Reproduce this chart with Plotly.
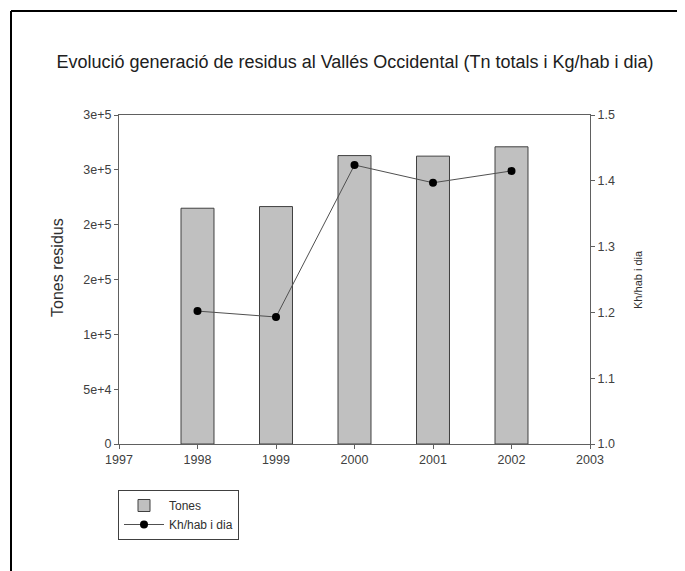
import plotly.graph_objects as go

years = [1998, 1999, 2000, 2001, 2002]
tones = [215000, 216500, 263000, 262500, 271000]
kg_hab_dia = [1.202, 1.193, 1.424, 1.397, 1.415]

x_ticks = [1997, 1998, 1999, 2000, 2001, 2002, 2003]
y1_tickvals = [0, 50000, 100000, 150000, 200000, 250000, 300000]
y1_ticktext = ["0", "5e+4", "1e+5", "2e+5", "2e+5", "3e+5", "3e+5"]
y2_tickvals = [1.0, 1.1, 1.2, 1.3, 1.4, 1.5]
y2_ticktext = ["1.0", "1.1", "1.2", "1.3", "1.4", "1.5"]

FONT = "Arial, Liberation Sans, sans-serif"
W, H = 685, 571
OFF = 8  # page body margin
L, R, T, B = 119 - OFF, 590 - OFF, 115 - OFF, 444 - OFF
pw, ph = R - L, B - T

def px(x):
    return (x - OFF - L) / pw

def py(y):
    return (B - (y - OFF)) / ph

fig = go.Figure()
fig.add_trace(go.Bar(
    x=years, y=tones, name="Tones", width=0.42,
    marker=dict(color="#c0c0c0", line=dict(color="#404040", width=1)),
    yaxis="y",
))
fig.add_trace(go.Scatter(
    x=years, y=kg_hab_dia, name="Kh/hab i dia", mode="lines+markers",
    line=dict(color="#505050", width=1),
    marker=dict(color="black", size=8),
    yaxis="y2",
))

axis_common = dict(
    showgrid=False, zeroline=False, showline=True, linecolor="#606060", linewidth=1,
    ticks="outside", ticklen=4, tickcolor="#606060",
    tickfont=dict(family=FONT, size=12.5, color="#404040"),
)

fig.update_layout(
    width=W, height=H,
    margin=dict(l=L, r=W - R, t=T, b=H - B),
    paper_bgcolor="white", plot_bgcolor="white",
    font=dict(family=FONT, color="#202020"),
    title=dict(
        text="Evolució generació de residus al Vallés Occidental (Tn totals i Kg/hab i dia)",
        x=px(355), xref="paper", xanchor="center",
        y=1 - (62 - OFF) / H, yref="container", yanchor="middle",
        font=dict(family=FONT, size=18, color="#202020"),
    ),
    xaxis=dict(
        range=[1997, 2003], tickvals=x_ticks, ticktext=[str(v) for v in x_ticks],
        mirror=True, **axis_common,
    ),
    yaxis=dict(
        range=[0, 300000], tickvals=y1_tickvals, ticktext=y1_ticktext,
        **axis_common,
    ),
    yaxis2=dict(
        range=[1.0, 1.5], tickvals=y2_tickvals, ticktext=y2_ticktext,
        overlaying="y", side="right", **axis_common,
    ),
    showlegend=True,
    legend=dict(
        x=px(118), y=py(490), xanchor="left", yanchor="top",
        bordercolor="#404040", borderwidth=1, bgcolor="white",
        font=dict(family=FONT, size=12, color="#303030"),
        tracegroupgap=0, itemwidth=40,
    ),
    annotations=[
        dict(text="Tones residus", x=px(57), y=py(268), xref="paper", yref="paper",
             xanchor="center", yanchor="middle",
             textangle=-90, showarrow=False, font=dict(family=FONT, size=16, color="#303030")),
        dict(text="Kh/hab i dia", x=px(638), y=py(280), xref="paper", yref="paper",
             xanchor="center", yanchor="middle",
             textangle=-90, showarrow=False, font=dict(family=FONT, size=11, color="#303030")),
    ],
    shapes=[
        dict(type="line", xref="paper", yref="paper", x0=px(11), x1=px(700),
             y0=py(11), y1=py(11), line=dict(color="black", width=2)),
        dict(type="line", xref="paper", yref="paper", x0=px(11), x1=px(11),
             y0=py(11), y1=py(590), line=dict(color="black", width=2)),
    ],
)

fig.write_html("out.html")
